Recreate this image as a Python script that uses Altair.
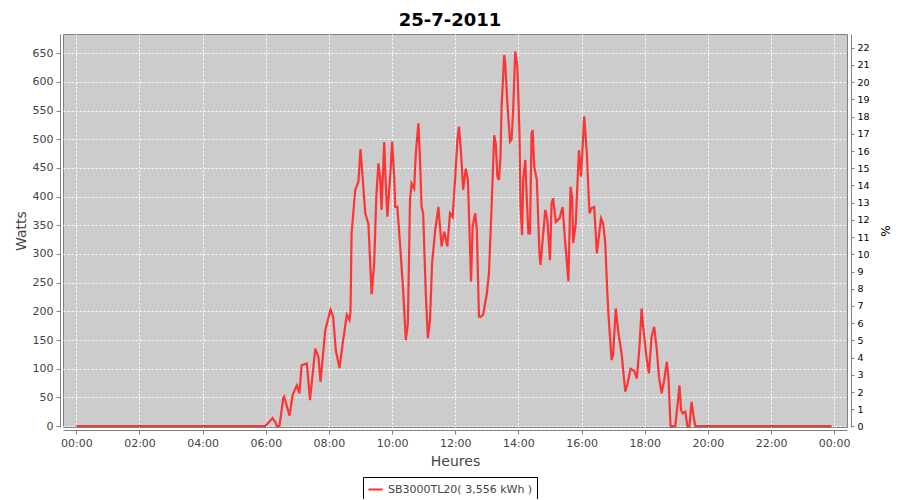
import altair as alt
import pandas as pd

# minutes since midnight (25-7-2011)
minutes = [0, 359, 364, 373, 379, 381, 386, 393, 395, 405,
           411, 419, 424, 428, 438, 444, 454, 460, 464, 473,
           483, 488, 493, 500, 507, 514, 519, 521, 523, 530,
           536, 540, 543, 549, 555, 561, 566, 570, 574, 577,
           580, 585, 588, 591, 597, 600, 604, 606, 610, 615,
           621, 626, 630, 634, 637, 642, 645, 650, 653, 656,
           659, 664, 668, 672, 676, 682, 688, 694, 699, 705,
           710, 715, 720, 724, 727, 731, 735, 740, 744, 747,
           750, 753, 758, 761, 765, 768, 773, 780, 784, 789,
           794, 797, 800, 803, 806, 808, 813, 815, 819, 824,
           827, 830, 834, 838, 842, 844, 847, 849, 853, 856,
           859, 862, 865, 867, 870, 875, 880, 882, 886, 891,
           895, 900, 903, 906, 911, 918, 924, 929, 935, 939,
           942, 944, 949, 953, 955, 959, 965, 970, 975, 979,
           984, 989, 992, 997, 1001, 1005, 1009, 1011, 1017, 1020,
           1025, 1030, 1036, 1043, 1047, 1053, 1060, 1065, 1070, 1074,
           1077, 1084, 1088, 1093, 1098, 1103, 1107, 1112, 1117, 1122,
           1125, 1129, 1138, 1142, 1146, 1149, 1152, 1157, 1161, 1165,
           1169, 1172, 1176, 1435]

watts = [0, 0, 5, 14, 5, 0, 0, 48, 51, 18,
         54, 71, 57, 106, 109, 45, 135, 121, 77, 167,
         203, 191, 132, 101, 150, 194, 185, 200, 336, 412,
         426, 483, 446, 371, 353, 230, 285, 400, 458, 435,
         377, 495, 420, 365, 446, 496, 435, 382, 382, 318,
         237, 150, 179, 394, 423, 414, 475, 528, 464, 382,
         371, 231, 153, 185, 284, 342, 382, 313, 339, 313,
         371, 365, 435, 499, 522, 476, 412, 449, 429, 342,
         252, 348, 371, 342, 191, 190, 194, 231, 266, 382,
         507, 493, 435, 429, 470, 557, 647, 632, 563, 496,
         500, 551, 653, 627, 510, 382, 333, 429, 464, 394,
         336, 336, 510, 516, 452, 429, 301, 281, 324, 377,
         359, 289, 388, 397, 356, 362, 382, 319, 252, 417,
         400, 319, 353, 441, 481, 435, 540, 476, 371, 380,
         382, 301, 324, 362, 353, 319, 231, 196, 115, 125,
         205, 162, 127, 60, 72, 100, 96, 83, 138, 205,
         173, 115, 92, 156, 173, 132, 86, 57, 80, 112,
         86, 0, 0, 34, 71, 28, 22, 25, 0, 0,
         42, 22, 0, 0]

series_name = "SB3000TL20( 3,556 kWh )"
title_text = "25-7-2011"
watt_ticks = list(range(0, 651, 50))
pct_ticks = list(range(0, 23))
hour_ticks = list(range(0, 1441, 120))
nominal_power = 3000.0

df = pd.DataFrame({"minute": minutes, "watts": watts})
df["series"] = series_name
df["pct"] = df["watts"] / nominal_power * 100

FONT = "DejaVu Sans"
x_enc = alt.X(
    "minute:Q",
    scale=alt.Scale(domain=[-25.3, 1464.3], nice=False, zero=False),
    axis=alt.Axis(
        values=hour_ticks,
        labelExpr="(floor(datum.value/60)%24 < 10 ? '0' : '') + (floor(datum.value/60)%24) + ':00'",
        title="Heures",
        grid=True, gridColor="white", gridDash=[2, 2], gridOpacity=1, gridWidth=1,
        offset=3, tickSize=4, tickColor="#808080", domainColor="#808080",
        labelFont=FONT, labelFontSize=11, labelColor="#444444", labelPadding=3,
        titleFont=FONT, titleFontSize=14, titleFontWeight="normal", titleColor="#444444",
        titlePadding=6, labelFlush=False,
    ),
)

line = alt.Chart(df).mark_line(strokeWidth=2.2, clip=True).encode(
    x=x_enc,
    y=alt.Y(
        "watts:Q",
        scale=alt.Scale(domain=[-1.7, 683.6], nice=False, zero=False),
        axis=alt.Axis(
            values=watt_ticks, title="Watts",
            grid=True, gridColor="white", gridDash=[2, 2], gridOpacity=1, gridWidth=1,
            offset=3, tickSize=4, tickColor="#808080", domainColor="#808080",
            labelFont=FONT, labelFontSize=11, labelColor="#444444", labelPadding=3,
            titleFont=FONT, titleFontSize=14, titleFontWeight="normal", titleColor="#444444",
            titlePadding=4,
        ),
    ),
    color=alt.Color(
        "series:N",
        scale=alt.Scale(domain=[series_name], range=["#ff3333"]),
        legend=alt.Legend(
            title=None, orient="none", legendX=300, legendY=443,
            strokeColor="black", fillColor="white", padding=4, cornerRadius=0,
            symbolType="stroke", symbolSize=200, symbolStrokeWidth=2,
            labelFont=FONT, labelFontSize=11, labelColor="#444444", labelOffset=4,
        ),
    ),
)

right = alt.Chart(df).mark_line(opacity=0).encode(
    x=x_enc,
    y=alt.Y(
        "pct:Q",
        scale=alt.Scale(domain=[-0.03, 22.8], nice=False, zero=False),
        axis=alt.Axis(
            orient="right", values=pct_ticks, title="%", grid=False,
            offset=4, tickSize=3, tickColor="#808080", domainColor="#808080",
            labelFont=FONT, labelFontSize=9.5, labelColor="black", labelPadding=3,
            titleFont=FONT, titleFontSize=12, titleFontWeight="normal", titleColor="black",
            titlePadding=8,
        ),
    ),
)

chart = (
    alt.layer(line, right)
    .resolve_scale(y="independent")
    .properties(
        width=784, height=393,
        title=alt.TitleParams(title_text, font=FONT, fontSize=18, fontWeight="bold",
                              color="black", offset=4, dx=-5, anchor="middle"),
        autosize=alt.AutoSizeParams(type="none"),
        padding={"left": 55, "top": 26, "right": 45, "bottom": 72},
        background="white",
    )
    .configure_view(fill="#cccccc", stroke="#808080", strokeWidth=1)
)

chart.save("out.html", embed_options={"renderer": "svg", "actions": False})
